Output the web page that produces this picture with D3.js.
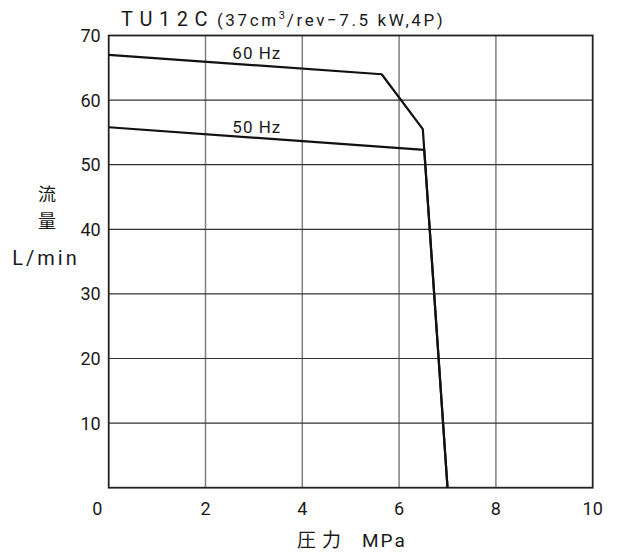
<!DOCTYPE html>
<html>
<head>
<meta charset="utf-8">
<script src="https://cdn.jsdelivr.net/npm/d3@7"></script>
<style>
  body { margin: 0; background: #fff; }
  text { font-family: Roboto, "Noto Sans CJK JP", sans-serif; fill: #1a1a1a; }
</style>
</head>
<body>
<script>
// chart values
var pressure60 = [0, 5.64, 6.49, 7.0];
var flow60     = [67, 64.0, 55.5, 0];
var pressure50 = [0, 6.52, 7.0];
var flow50     = [55.8, 52.3, 0];
var xTicks = [0, 2, 4, 6, 8, 10];
var yTicks = [10, 20, 30, 40, 50, 60, 70];

// set the dimensions and margins of the graph
var margin = {top: 35.5, right: 27.3, bottom: 65.3, left: 108.7},
    width = 620 - margin.left - margin.right,
    height = 553 - margin.top - margin.bottom;

var svg = d3.select("body").append("svg")
    .attr("width", 620)
    .attr("height", 553);

var g = svg.append("g")
    .attr("transform", "translate(" + margin.left + "," + margin.top + ")");

// set the ranges
var x = d3.scaleLinear().domain([0, 10]).range([0, width]);
var y = d3.scaleLinear().domain([0, 70]).range([height, 0]);

// vertical grid (grey)
g.selectAll(".vgrid")
    .data(xTicks.filter(function(d) { return d > 0 && d < 10; }))
  .enter().append("line")
    .attr("x1", function(d) { return x(d); })
    .attr("x2", function(d) { return x(d); })
    .attr("y1", 0)
    .attr("y2", height)
    .style("stroke", "#808080")
    .style("stroke-width", 1.5);

// horizontal grid (dark)
g.selectAll(".hgrid")
    .data(yTicks.filter(function(d) { return d < 70; }))
  .enter().append("line")
    .attr("x1", 0)
    .attr("x2", width)
    .attr("y1", function(d) { return y(d); })
    .attr("y2", function(d) { return y(d); })
    .style("stroke", "#333")
    .style("stroke-width", 1.2);

// frame
g.append("rect")
    .attr("width", width)
    .attr("height", height)
    .style("fill", "none")
    .style("stroke", "#222")
    .style("stroke-width", 1.8);

// the two curves
var line = d3.line()
    .x(function(d) { return x(d[0]); })
    .y(function(d) { return y(d[1]); });

[[pressure60, flow60], [pressure50, flow50]].forEach(function(s) {
  g.append("path")
      .datum(d3.zip(s[0], s[1]))
      .attr("d", line)
      .style("fill", "none")
      .style("stroke", "#111")
      .style("stroke-width", 2.2)
      .style("stroke-linejoin", "round");
});

// curve labels
g.append("text")
    .attr("x", x(3.06)).attr("y", y(66.3))
    .attr("text-anchor", "middle")
    .style("font-size", "17px")
    .style("letter-spacing", "1px")
    .text("60 Hz");
g.append("text")
    .attr("x", x(3.06)).attr("y", y(54.9))
    .attr("text-anchor", "middle")
    .style("font-size", "17px")
    .style("letter-spacing", "1px")
    .text("50 Hz");

// x tick labels
g.selectAll(".xlab")
    .data(xTicks)
  .enter().append("text")
    .attr("x", function(d) { return d === 0 ? x(d) - 11.5 : x(d); })
    .attr("y", height + 27.5)
    .attr("text-anchor", "middle")
    .style("font-size", "18px")
    .text(function(d) { return d; });

// y tick labels
g.selectAll(".ylab")
    .data(yTicks)
  .enter().append("text")
    .attr("x", -8)
    .attr("y", function(d) { return y(d); })
    .attr("dy", "0.36em")
    .attr("text-anchor", "end")
    .style("font-size", "18px")
    .text(function(d) { return d; });

// title
var title = svg.append("text")
    .attr("x", 121)
    .attr("y", 26);
title.append("tspan")
    .style("font-size", "20px")
    .style("letter-spacing", "6.5px")
    .text("TU12C");
title.append("tspan")
    .attr("dx", 3)
    .style("font-size", "17px")
    .style("letter-spacing", "2.6px")
    .text("(37cm");
title.append("tspan")
    .attr("dy", -7)
    .style("font-size", "11px")
    .text("3");
title.append("tspan")
    .attr("dy", 7)
    .attr("dx", 2)
    .style("font-size", "17px")
    .style("letter-spacing", "2.6px")
    .text("/rev−7.5 kW,4P)");

// axis titles
svg.append("text")
    .attr("x", 297).attr("y", 547)
    .style("font-size", "19px")
    .text("圧");
svg.append("text")
    .attr("x", 322).attr("y", 547)
    .style("font-size", "19px")
    .text("力");
svg.append("text")
    .attr("x", 362).attr("y", 547)
    .style("font-size", "19px")
    .style("letter-spacing", "2px")
    .text("MPa");

svg.append("text")
    .attr("x", 47).attr("y", 201)
    .attr("text-anchor", "middle")
    .style("font-size", "18px")
    .text("流");
svg.append("text")
    .attr("x", 47).attr("y", 228)
    .attr("text-anchor", "middle")
    .style("font-size", "18px")
    .text("量");
svg.append("text")
    .attr("x", 46).attr("y", 265)
    .attr("text-anchor", "middle")
    .style("font-size", "20px")
    .style("letter-spacing", "3px")
    .text("L/min");
</script>
</body>
</html>
